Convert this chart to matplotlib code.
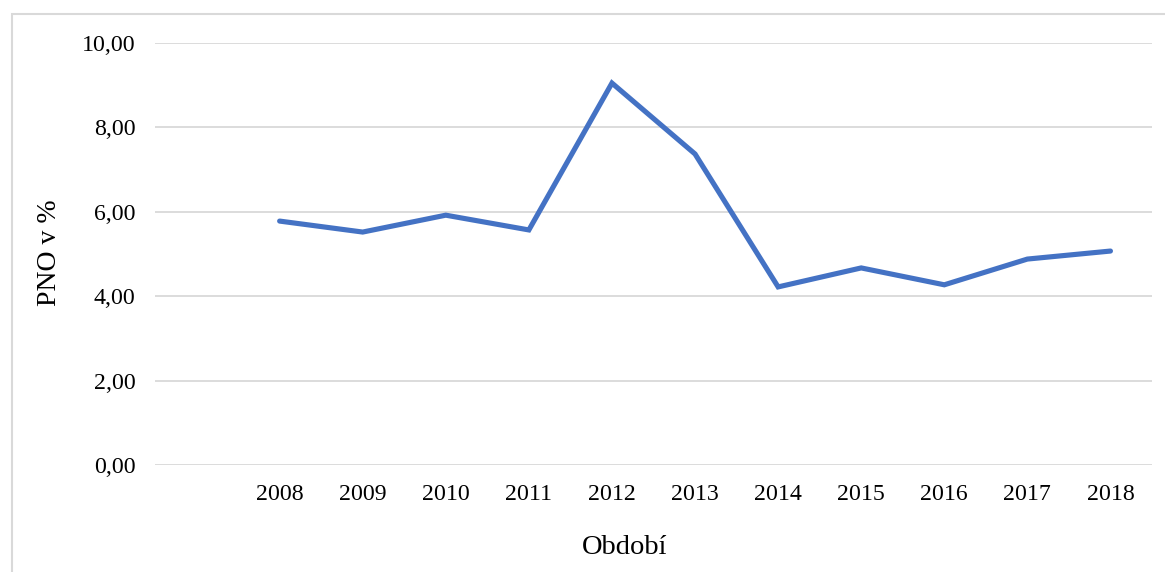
import matplotlib
matplotlib.use("Agg")
import matplotlib.pyplot as plt
from matplotlib.patches import Rectangle

categories = ["", "2008", "2009", "2010", "2011", "2012", "2013", "2014", "2015", "2016", "2017", "2018"]
years = ["2008", "2009", "2010", "2011", "2012", "2013", "2014", "2015", "2016", "2017", "2018"]
pno = [5.78, 5.52, 5.92, 5.57, 9.05, 7.37, 4.22, 4.67, 4.27, 4.88, 5.07]
yticks = [0, 2, 4, 6, 8, 10]
ytick_labels = ["0,00", "2,00", "4,00", "6,00", "8,00", "10,00"]

plt.rcParams['font.family'] = ['Liberation Serif', 'DejaVu Serif']

W, H = 1165, 572
fig = plt.figure(figsize=(W / 100, H / 100), dpi=100)
fig.patches.append(Rectangle((12 / W, -0.1), 1.2, 1 - 14 / H + 0.1, transform=fig.transFigure,
                             fill=False, edgecolor="#d9d9d9", linewidth=1.5))

ax = fig.add_axes([155 / W, 1 - 465 / H, (1152 - 155) / W, (465 - 43) / H])
xpos = [categories.index(y) for y in years]
ax.plot(xpos, pno, color="#4472C4", linewidth=3.7, solid_capstyle="round", solid_joinstyle="miter", zorder=3)

ax.set_xlim(-0.5, len(categories) - 0.5)
ax.set_ylim(0, 10)
ax.set_xticks(range(len(categories)))
ax.set_xticklabels(categories, fontsize=17.2)
ax.set_yticks(yticks)
ax.set_yticklabels(ytick_labels, fontsize=17.2)
ax.tick_params(length=0)
ax.tick_params(axis="y", pad=14)
ax.tick_params(axis="x", pad=14)
ax.grid(axis="y", color="#d9d9d9", linewidth=1.3)
ax.set_axisbelow(True)
for s in ax.spines.values():
    s.set_visible(False)

fig.text(625 / W, 1 - 548 / H, "Období", ha="center", va="center", fontsize=20.5)
fig.text(50 / W, 1 - 253 / H, "PNO v %", ha="center", va="center", rotation=90, fontsize=20)

fig.savefig("out.png", dpi=100)
